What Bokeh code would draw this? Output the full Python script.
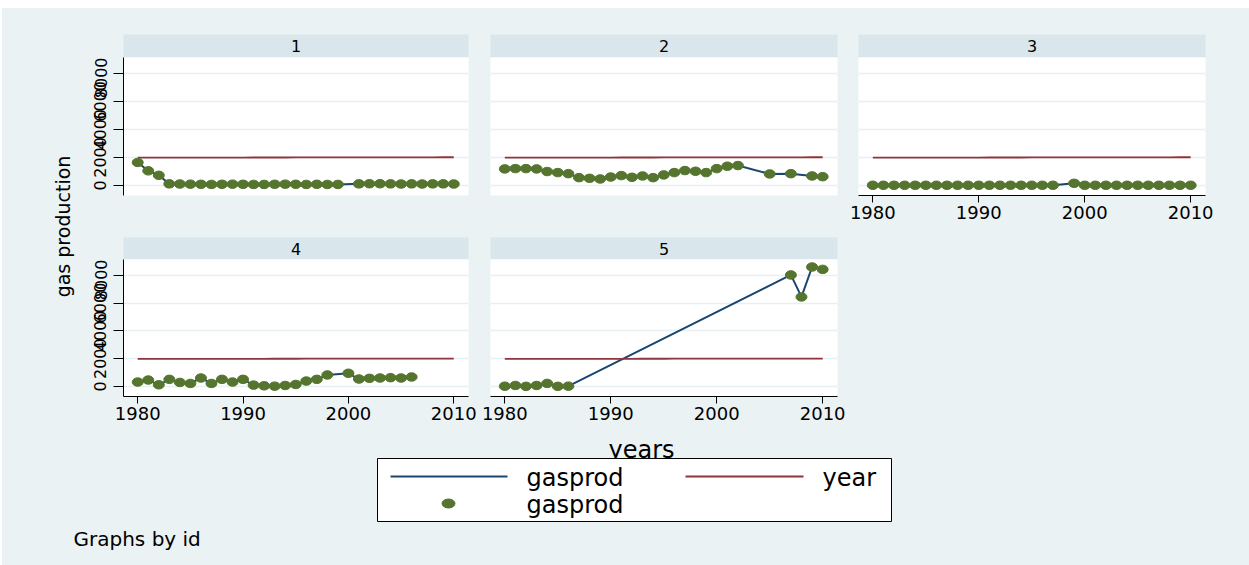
import math

from bokeh.core.properties import value
from bokeh.embed import file_html
from bokeh.layouts import column, row
from bokeh.models import FixedTicker, Range1d, Spacer
from bokeh.plotting import figure
from bokeh.resources import INLINE

nan = float("nan")

# ---- data: gas production by id, 1980-2010 (nan = not observed) ----
years = [1980, 1981, 1982, 1983, 1984, 1985, 1986, 1987, 1988, 1989,
         1990, 1991, 1992, 1993, 1994, 1995, 1996, 1997, 1998, 1999,
         2000, 2001, 2002, 2003, 2004, 2005, 2006, 2007, 2008, 2009, 2010]

gasprod_1 = [1640, 1040, 720, 110, 100, 90, 80, 70, 80, 90,
             80, 70, 70, 80, 90, 80, 70, 80, 70, 70,
             nan, 110, 120, 120, 110, 100, 110, 100, 110, 110, 100]
gasprod_2 = [1180, 1200, 1200, 1180, 990, 915, 840, 555, 505, 460,
             600, 700, 580, 675, 555, 750, 915, 1060, 1010, 915,
             1200, 1370, 1420, nan, nan, 820, nan, 840, nan, 675, 625]
gasprod_3 = [10, 10, 10, 10, 10, 10, 10, 10, 10, 10,
             10, 10, 10, 10, 10, 10, 10, 10, nan, 150,
             10, 10, 10, 10, 10, 10, 10, 10, 10, 10, 10]
gasprod_4 = [317, 463, 122, 512, 293, 220, 610, 220, 512, 317,
             512, 98, 49, 24, 73, 146, 390, 512, 830, nan,
             950, 537, 585, 610, 634, 610, 683, nan, nan, nan, nan]
gasprod_5 = [20, 74, 10, 74, 222, 10, 25, nan, nan, nan,
             nan, nan, nan, nan, nan, nan, nan, nan, nan, nan,
             nan, nan, nan, nan, nan, nan, nan, 8020, 6440, 8590, 8420]

panel_ids = ["1", "2", "3", "4", "5"]
y_ticks = [0, 2000, 4000, 6000, 8000]
x_ticks = [1980, 1990, 2000, 2010]

# ---- styling ----
BG = "#EAF2F3"
STRIP = "#D9E6EB"
GRID = "#E6EFF1"
C_GAS = "#1A476F"
C_YEAR = "#90353B"
C_DOT = "#55752F"
FONT = "DejaVu Sans"

X_RANGE = (1978.65, 2011.4)
Y_RANGE = (-720, 9130)


def observed(xs, ys):
    pts = [(x, y) for x, y in zip(xs, ys) if not math.isnan(y)]
    return [p[0] for p in pts], [p[1] for p in pts]


def base_fig(w, h, left, right, top, bottom, xr, yr, x_loc=None, y_loc=None):
    p = figure(width=w, height=h, output_backend="svg", toolbar_location=None,
               title=None, x_range=Range1d(*xr), y_range=Range1d(*yr),
               x_axis_location=x_loc, y_axis_location=y_loc,
               min_border_left=left, min_border_right=right,
               min_border_top=top, min_border_bottom=bottom)
    p.border_fill_color = BG
    p.outline_line_color = None
    return p


def strip_fig(label, w, h, left, right, top):
    s = base_fig(w, h, left, right, top, 0, (0, 1), (0, 1))
    s.background_fill_color = STRIP
    s.grid.visible = False
    s.text(x=[0.5], y=[0.5], text=[label], text_align="center",
           text_baseline="middle", text_font=value(FONT),
           text_font_size="16px", text_color="black")
    return s


def panel_fig(gas, w, h, left, right, bottom, show_y, show_x):
    p = base_fig(w, h, left, right, 0, bottom, X_RANGE, Y_RANGE,
                 x_loc="below" if show_x else None,
                 y_loc="left" if show_y else None)
    p.background_fill_color = "white"
    p.xgrid.visible = False
    p.ygrid.ticker = FixedTicker(ticks=y_ticks)
    p.ygrid.grid_line_color = GRID
    p.ygrid.grid_line_width = 1.5

    if show_y:
        ax = p.yaxis[0]
        ax.ticker = FixedTicker(ticks=y_ticks)
        ax.major_label_orientation = "vertical"
        ax.major_tick_out = 10
        ax.major_tick_in = 0
        ax.minor_tick_line_color = None
        ax.axis_line_color = "black"
        ax.major_tick_line_color = "black"
        ax.major_label_text_font = FONT
        ax.major_label_text_font_size = "16px"
        ax.major_label_text_color = "black"
        ax.major_label_standoff = 7
    if show_x:
        ax = p.xaxis[0]
        ax.ticker = FixedTicker(ticks=x_ticks)
        ax.major_tick_out = 7
        ax.major_tick_in = 0
        ax.minor_tick_line_color = None
        ax.axis_line_color = "black"
        ax.major_tick_line_color = "black"
        ax.major_label_text_font = FONT
        ax.major_label_text_font_size = "18px"
        ax.major_label_text_color = "black"
        ax.major_label_standoff = 3

    gx, gy = observed(years, gas)
    p.line(gx, gy, line_color=C_GAS, line_width=2)
    p.line(years, years, line_color=C_YEAR, line_width=1.8)
    p.ellipse(gx, gy, width=11, height=8.5, width_units="screen",
              height_units="screen", fill_color=C_DOT, line_color=C_DOT)
    return p


# column geometry: (width, left border, right border)
cols = [(404, 48, 11), (369, 11, 11), (401, 10, 44)]
ROW2_BOTTOM = 31
ROW2_H = 137 + ROW2_BOTTOM

col1 = column(
    strip_fig(panel_ids[0], cols[0][0], 49, cols[0][1], cols[0][2], 26),
    panel_fig(gasprod_1, cols[0][0], 171, cols[0][1], cols[0][2], 33, True, False),
    strip_fig(panel_ids[3], cols[0][0], 31, cols[0][1], cols[0][2], 9),
    panel_fig(gasprod_4, cols[0][0], ROW2_H, cols[0][1], cols[0][2], ROW2_BOTTOM, True, True),
    spacing=0)

col2 = column(
    strip_fig(panel_ids[1], cols[1][0], 49, cols[1][1], cols[1][2], 26),
    panel_fig(gasprod_2, cols[1][0], 171, cols[1][1], cols[1][2], 33, False, False),
    strip_fig(panel_ids[4], cols[1][0], 31, cols[1][1], cols[1][2], 9),
    panel_fig(gasprod_5, cols[1][0], ROW2_H, cols[1][1], cols[1][2], ROW2_BOTTOM, False, True),
    spacing=0)

blank = base_fig(cols[2][0], 31 + ROW2_H, 0, 0, 0, 0, (0, 1), (0, 1))
blank.background_fill_color = BG
blank.grid.visible = False

col3 = column(
    strip_fig(panel_ids[2], cols[2][0], 49, cols[2][1], cols[2][2], 26),
    panel_fig(gasprod_3, cols[2][0], 171, cols[2][1], cols[2][2], 33, False, True),
    blank,
    spacing=0)

TOP_H = 49 + 171 + 31 + ROW2_H      # height of the panel block
Y0 = 8                              # top white margin
Y_SPLIT = Y0 + TOP_H                # where the bottom band begins

# left margin with the shared y title (page pixel coordinates)
left = base_fig(73, TOP_H, 0, 0, 0, 0, (2, 75), (Y_SPLIT, Y0))
left.background_fill_color = BG
left.grid.visible = False
left.text(x=[62], y=[226], text=["gas production"], angle=math.pi / 2,
          text_align="center", text_baseline="middle", text_font=value(FONT),
          text_font_size="19px", text_color="black")

# bottom band: x title, legend, note (page pixel coordinates)
bottom = base_fig(1247, 565 - Y_SPLIT, 0, 0, 0, 0, (2, 1249), (565, Y_SPLIT))
bottom.background_fill_color = BG
bottom.grid.visible = False
bottom.text(x=[641], y=[449], text=["years"], text_align="center",
            text_baseline="alphabetic", text_font=value(FONT),
            text_font_size="24px", text_color="black")
bottom.quad(left=[377], right=[891], top=[458], bottom=[521],
            fill_color="white", line_color="black", line_width=1)
bottom.segment(x0=[390], y0=[476], x1=[507], y1=[476], line_color=C_GAS, line_width=2)
bottom.segment(x0=[685], y0=[476], x1=[803], y1=[476], line_color=C_YEAR, line_width=2)
bottom.ellipse(x=[448], y=[503], width=13, height=9, width_units="screen",
               height_units="screen", fill_color=C_DOT, line_color=C_DOT)
bottom.text(x=[526, 822, 526], y=[477, 477, 504], text=["gasprod", "year", "gasprod"],
            text_align="left", text_baseline="middle", text_font=value(FONT),
            text_font_size="24px", text_color="black")
bottom.text(x=[73], y=[538], text=["Graphs by id"], text_align="left",
            text_baseline="middle", text_font=value(FONT),
            text_font_size="20px", text_color="black")

panels = row(left, col1, col2, col3, spacing=0)
main = column(panels, bottom, spacing=0)
for box in (panels, main, col1, col2, col3):
    box.styles = {"background-color": BG}

layout = column(Spacer(width=1249, height=Y0),
                row(Spacer(width=2, height=565 - Y0), main, spacing=0),
                spacing=0)

open("out.html", "w").write(file_html(layout, INLINE))
